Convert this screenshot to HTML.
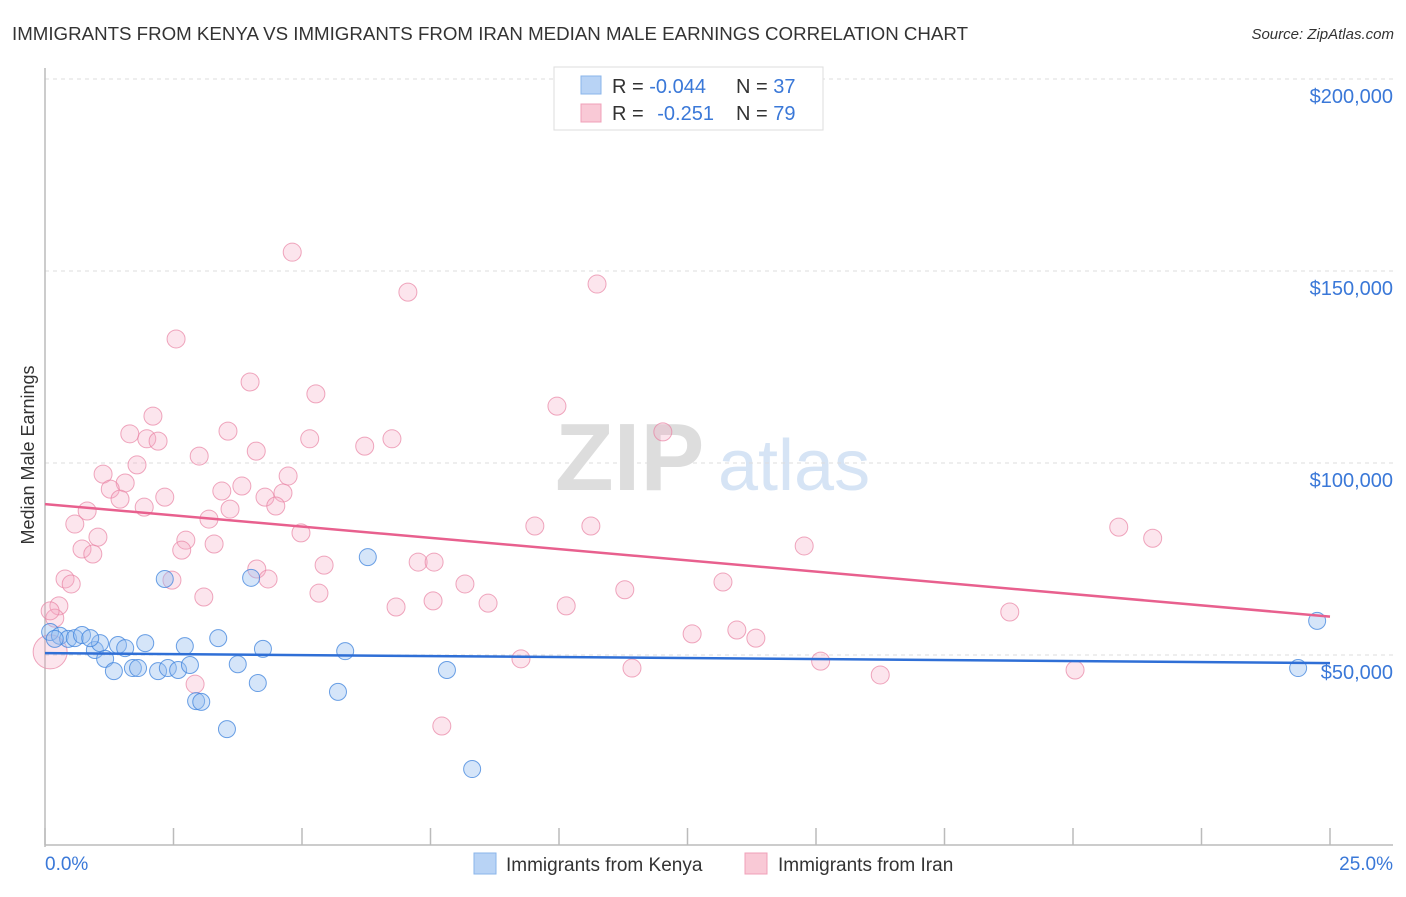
<!DOCTYPE html>
<html><head><meta charset="utf-8">
<style>
body{margin:0;background:#fff;font-family:"Liberation Sans",sans-serif;}
svg text{font-family:"Liberation Sans",sans-serif;}
</style></head>
<body>
<svg id="chart" width="1406" height="892" xmlns="http://www.w3.org/2000/svg">
<text x="12" y="40" font-size="18" fill="#333" textLength="956" lengthAdjust="spacingAndGlyphs">IMMIGRANTS FROM KENYA VS IMMIGRANTS FROM IRAN MEDIAN MALE EARNINGS CORRELATION CHART</text>
<text x="1394" y="39" font-size="15" fill="#333" font-style="italic" text-anchor="end">Source: ZipAtlas.com</text>
<text x="555" y="490" font-size="96" fill="#ddd" font-family="Liberation Serif" font-weight="bold">ZIP</text>
<text x="718" y="490" font-size="72" fill="#d6e4f5">atlas</text>
<text transform="translate(34,455) rotate(-90)" font-size="18" fill="#333" text-anchor="middle">Median Male Earnings</text>
<g id="grid"></g>
<g id="axes"></g>
<g id="points"></g>
<g id="trends"></g>
<g>
<rect x="554" y="67" width="269" height="63" fill="#fff" stroke="#ddd"/>
<rect x="581" y="76" width="20" height="18" fill="#b8d3f5" stroke="#8ab4ea"/>
<rect x="581" y="104" width="20" height="18" fill="#f9c9d6" stroke="#f0a0b8"/>
<text x="612" y="93" font-size="20" fill="#333">R = <tspan fill="#3a78d8">-0.044</tspan></text>
<text x="736" y="93" font-size="20" fill="#333">N = <tspan fill="#3a78d8">37</tspan></text>
<text x="612" y="120" font-size="20" fill="#333">R = <tspan fill="#3a78d8" dx="8">-0.251</tspan></text>
<text x="736" y="120" font-size="20" fill="#333">N = <tspan fill="#3a78d8">79</tspan></text>
</g>
<g>
<rect x="474" y="853" width="22" height="21" fill="#b8d3f5" stroke="#8ab4ea"/>
<text x="506" y="871" font-size="19" fill="#333">Immigrants from Kenya</text>
<rect x="745" y="853" width="22" height="21" fill="#f9c9d6" stroke="#f0a0b8"/>
<text x="778" y="871" font-size="19" fill="#333">Immigrants from Iran</text>
</g>
</svg>
<script>
const yTicks=[50,100,150,200];
const xTickLabels=["0.0%","25.0%"];
const kenyaX=[0.10,0.29,0.45,0.58,0.72,0.97,1.07,1.17,1.34,1.42,1.56,1.71,1.81,1.95,2.20,2.39,2.59,2.72,2.82,2.94,3.04,3.37,3.54,3.75,4.01,4.14,4.24,5.70,5.84,6.28,7.82,8.31,24.38,24.75,0.19,2.33,0.88];
const kenyaY=[56.0,55.0,54.2,54.4,55.2,51.3,53.1,49.0,45.8,52.6,51.8,46.6,46.6,53.1,45.8,46.6,46.1,52.3,47.4,38.0,37.8,54.4,30.7,47.6,70.1,42.7,51.6,40.4,51.0,75.5,46.1,20.3,46.6,58.9,54.2,69.8,54.4];
const iranX=[4.81,7.06,10.74,2.55,3.99,5.27,9.96,2.10,3.56,1.65,1.98,2.20,12.02,5.15,6.22,6.75,3.00,4.11,1.79,1.13,4.73,1.56,1.27,3.44,3.83,4.63,4.28,1.46,2.33,1.93,0.82,4.49,3.60,3.19,0.58,9.53,10.62,20.89,21.55,14.77,4.98,1.03,2.74,3.29,0.72,2.66,0.93,4.12,5.43,7.26,7.57,0.39,0.51,2.47,4.34,8.17,13.19,11.28,5.33,3.09,7.55,8.62,10.14,0.27,6.83,18.77,0.19,12.59,13.46,13.83,9.26,15.09,11.42,20.04,16.25,2.92,7.72,0.10,0.10];
const iranY=[154.9,144.5,146.6,132.3,121.1,118.0,114.8,112.2,108.3,107.6,106.3,105.7,108.1,106.3,104.4,106.3,101.8,103.1,99.5,97.1,96.6,94.8,93.2,92.7,94.0,92.2,91.1,90.6,91.1,88.5,87.5,88.8,88.0,85.4,84.1,83.6,83.6,83.3,80.4,78.4,81.8,80.7,79.9,78.9,77.6,77.3,76.3,72.4,73.4,74.2,74.2,69.8,68.5,69.5,69.8,68.5,69.0,67.0,66.1,65.1,64.1,63.5,62.8,62.8,62.5,61.2,59.6,55.5,56.5,54.4,49.0,48.4,46.6,46.1,44.8,42.4,31.5,50.8,61.5];
const kenyaTrend=[50.5,47.9];
const iranTrend=[89.3,60.0];
const NS="http://www.w3.org/2000/svg";
const X0=45,X1=1330,Y0=847,PXK=192/50;
function sx(v){return X0+(X1-X0)*v/25;}
function sy(v){return Y0-v*PXK;}
function mk(t,a,p){const e=document.createElementNS(NS,t);for(const k in a)e.setAttribute(k,a[k]);p.appendChild(e);return e;}
const grid=document.getElementById('grid'),axes=document.getElementById('axes'),pts=document.getElementById('points'),tr=document.getElementById('trends');
yTicks.forEach(v=>{
 const l=mk('line',{x1:X0,x2:1393,y1:sy(v),y2:sy(v),stroke:'#ddd','stroke-dasharray':'4,4'},grid);
 
 
 const t=mk('text',{x:1393,y:sy(v)+24,'font-size':20,fill:'#3a78d8','text-anchor':'end'},axes);
 t.textContent='$'+(v*1000).toLocaleString('en-US');
 
 
});
const ya=mk('line',{x1:X0,x2:X0,y1:68,y2:847,stroke:'#bbb','stroke-width':1.5},axes);


const xa=mk('line',{x1:X0,x2:1393,y1:845,y2:845,stroke:'#bbb','stroke-width':1.5},axes);


for(let i=0;i<=10;i++){
 const tk=mk('line',{x1:sx(i*2.5),x2:sx(i*2.5),y1:828,y2:845,stroke:'#bbb','stroke-width':1.5},axes);
 
 
}
xTickLabels.forEach((s,i)=>{
 const t=mk('text',{x:i?1393:45,y:870,'font-size':19,fill:'#3a78d8','text-anchor':i?'end':'start'},axes);
 t.textContent=s;
 
 
});
iranX.forEach((x,i)=>{
 const r=(i===iranX.length-2)?17:9;
 const c=mk('circle',{cx:sx(x),cy:sy(iranY[i]),r:r,fill:'rgba(246,170,195,0.3)',stroke:'rgba(232,130,162,0.7)','stroke-width':1},pts);
 
 
});
kenyaX.forEach((x,i)=>{
 const c=mk('circle',{cx:sx(x),cy:sy(kenyaY[i]),r:8.5,fill:'rgba(150,190,240,0.4)',stroke:'rgba(60,130,220,0.75)','stroke-width':1},pts);
 
 
});
const kl=mk('line',{x1:sx(0),x2:sx(25),y1:sy(kenyaTrend[0]),y2:sy(kenyaTrend[1]),stroke:'#2f6fd6','stroke-width':2.5},tr);


const il=mk('line',{x1:sx(0),x2:sx(25),y1:sy(iranTrend[0]),y2:sy(iranTrend[1]),stroke:'#e8608e','stroke-width':2.5},tr);


</script>
</body></html>
